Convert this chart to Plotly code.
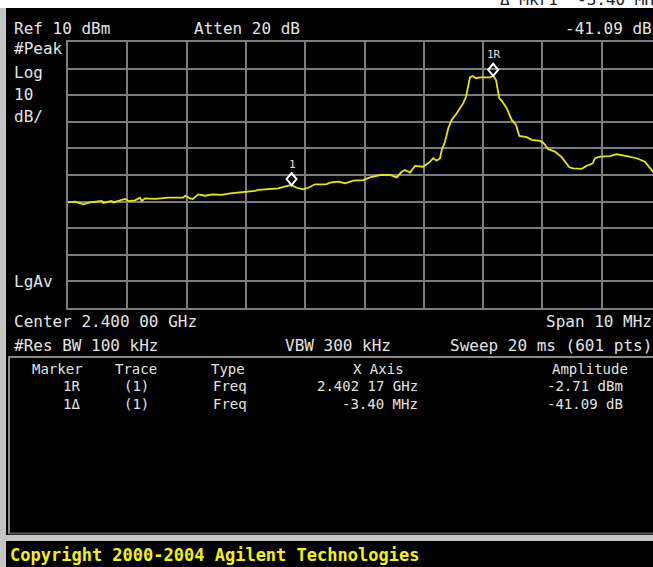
import plotly.graph_objects as go

# ---------------- data ----------------
center_mhz = 2400.0
span_mhz = 10.0
ref_level_dbm = 10.0
db_per_div = 10.0

freq_mhz = [
    2395.000, 2395.118, 2395.258, 2395.371, 2395.568, 2395.595, 2395.737, 2395.764,
    2395.961, 2396.017, 2396.130, 2396.214, 2396.243, 2396.298, 2396.467, 2396.551,
    2396.691, 2396.944, 2396.973, 2397.057, 2397.103, 2397.197, 2397.310, 2397.450,
    2397.592, 2397.732, 2397.929, 2398.153, 2398.209, 2398.406, 2398.546, 2398.715,
    2398.770, 2398.857, 2398.968, 2399.052, 2399.165, 2399.278, 2399.363, 2399.418,
    2399.558, 2399.671, 2399.811, 2399.980, 2400.093, 2400.261, 2400.430, 2400.543,
    2400.627, 2400.683, 2400.767, 2400.852, 2400.936, 2400.992, 2401.105, 2401.160,
    2401.217, 2401.245, 2401.273, 2401.302, 2401.357, 2401.413, 2401.470, 2401.555,
    2401.666, 2401.712, 2401.750, 2401.779, 2401.825, 2401.880, 2401.948, 2402.116,
    2402.170, 2402.218, 2402.273, 2402.314, 2402.398, 2402.482, 2402.555, 2402.611,
    2402.735, 2402.820, 2402.960, 2403.015, 2403.100, 2403.212, 2403.325, 2403.381,
    2403.454, 2403.521, 2403.663, 2403.747, 2403.848, 2403.887, 2403.971, 2404.140,
    2404.253, 2404.422, 2404.590, 2404.730, 2404.865, 2405.000,
]
amp_dbm = [
    -50.3, -50.0, -51.0, -50.3, -49.8, -50.5, -49.8, -50.3,
    -49.0, -49.8, -49.5, -48.5, -49.8, -48.8, -49.0, -48.8,
    -48.5, -48.5, -47.8, -48.8, -49.0, -47.3, -47.8, -47.3,
    -47.5, -46.9, -46.5, -46.0, -45.6, -45.3, -45.0, -44.0,
    -43.8, -44.8, -45.4, -44.8, -43.5, -43.5, -43.4, -42.9,
    -42.5, -43.1, -42.1, -41.9, -40.9, -40.0, -40.0, -40.9,
    -38.8, -38.1, -39.1, -36.6, -36.9, -36.9, -35.0, -33.7,
    -34.6, -34.1, -33.7, -30.6, -27.5, -22.4, -19.3, -16.8,
    -13.0, -10.6, -6.8, -3.3, -2.8, -3.6, -3.3, -3.3,
    -2.71, -4.3, -11.2, -12.1, -14.9, -19.3, -21.2, -25.3,
    -25.8, -26.8, -27.2, -27.9, -30.3, -31.2, -33.3, -35.0,
    -37.1, -37.5, -37.7, -36.5, -35.6, -33.7, -33.1, -32.9,
    -32.2, -32.9, -33.7, -35.0, -38.8, -41.0,
]

marker_labels = ["1R", "1"]
marker_freq_mhz = [2402.17, 2398.77]
marker_amp_dbm = [-2.71, -43.80]

table_header = ["Marker", "Trace", "Type", "X Axis", "Amplitude"]
table_rows = [
    ["1R", "(1)", "Freq", "2.402 17 GHz", "-2.71 dBm"],
    ["1\u0394", "(1)", "Freq", "-3.40 MHz", "-41.09 dB"],
]

# ---------------- layout geometry (pixels) ----------------
W, H = 653, 567
PL, PT = 68, 42          # plot area left/top
PW, PH = W - PL, 266     # plot area width/height
GRID_PX = 593            # full 10-division grid width (cropped on the right)

def px2x(px):
    return (px - PL) / PW

def py2y(py):
    return (PT + PH - py) / PH

MONO = "DejaVu Sans Mono"
TXT = "#e4e4e4"
GRID = "#7c7c7c"

fig = go.Figure()
fig.add_trace(go.Scatter(
    x=freq_mhz, y=amp_dbm, mode="lines",
    line=dict(color="#e8e800", width=1.8),
    hoverinfo="skip", showlegend=False,
))

x0 = center_mhz - span_mhz / 2
x1 = x0 + span_mhz * PW / GRID_PX
y_top = ref_level_dbm
y_bot = ref_level_dbm - 10 * db_per_div

shapes = []
annotations = []

# background frame elements
shapes.append(dict(type="rect", xref="paper", yref="paper",
                   x0=px2x(0), x1=px2x(W), y0=py2y(8), y1=py2y(-20),
                   fillcolor="white", line=dict(width=0), layer="below"))
shapes.append(dict(type="rect", xref="paper", yref="paper",
                   x0=px2x(0), x1=px2x(6), y0=py2y(H + 5), y1=py2y(8),
                   fillcolor="#c4c4c4", line=dict(width=0)))
# marker table box
shapes.append(dict(type="line", xref="paper", yref="paper",
                   x0=px2x(8), x1=px2x(W), y0=py2y(357), y1=py2y(357),
                   line=dict(color="#8a8a8a", width=2)))
shapes.append(dict(type="line", xref="paper", yref="paper",
                   x0=px2x(9), x1=px2x(9), y0=py2y(357), y1=py2y(534),
                   line=dict(color="#8a8a8a", width=2)))
shapes.append(dict(type="line", xref="paper", yref="paper",
                   x0=px2x(9), x1=px2x(W), y0=py2y(533.5), y1=py2y(533.5),
                   line=dict(color="#5a5a5a", width=2)))
shapes.append(dict(type="rect", xref="paper", yref="paper",
                   x0=px2x(0), x1=px2x(W), y0=py2y(541), y1=py2y(535),
                   fillcolor="#c4c4c4", line=dict(width=0)))

# marker diamonds (anchored at marker data point, drawn in pixel units)
for f, a in zip(marker_freq_mhz, marker_amp_dbm):
    shapes.append(dict(type="path", xref="x", yref="y",
                       xsizemode="pixel", ysizemode="pixel",
                       xanchor=f, yanchor=a,
                       path="M 0 0 L 5 6 L 0 12 L -5 6 Z",
                       line=dict(color="white", width=2)))
for lab, f, a in zip(marker_labels, marker_freq_mhz, marker_amp_dbm):
    annotations.append(dict(x=f, y=a, xref="x", yref="y", text=lab,
                            showarrow=False, yshift=21, xshift=1,
                            font=dict(family=MONO, size=11, color=TXT)))

def label(text, px, py, anchor="left", size=16, color=TXT, bold=False):
    t = f"<b>{text}</b>" if bold else text
    annotations.append(dict(x=px2x(px), y=py2y(py), xref="paper", yref="paper",
                            text=t, showarrow=False, xanchor=anchor, yanchor="middle",
                            font=dict(family=MONO, size=size, color=color)))

# top (partly hidden) window strip text
annotations.append(dict(x=px2x(666), y=py2y(11), xref="paper", yref="paper",
                        text="\u0394 Mkr1  -3.40 MHz", showarrow=False,
                        xanchor="right", yanchor="bottom",
                        font=dict(family=MONO, size=16, color="#202020")))

label("Ref 10 dBm", 12, 29)
label("Atten 20 dB", 192, 29)
label("-41.09 dB", W + 1, 29, anchor="right")
label("#Peak", 12, 49)
label("Log", 12, 72)
label("10", 12, 94)
label("dB/", 12, 116)
label("LgAv", 12, 281)
label("Center 2.400 00 GHz", 12, 321)
label("Span 10 MHz", W + 1, 321, anchor="right")
label("#Res BW 100 kHz", 12, 345)
label("VBW 300 kHz", 283, 345)
label("Sweep 20 ms (601 pts)", W + 1, 345, anchor="right")

# marker table
hdr_x = [57, 136, 228, 378, 590]
for t, cx in zip(table_header, hdr_x):
    label(t, cx, 369, anchor="center", size=14)
row_y = [386, 404]
col_pos = [(71, "center"), (136, "center"), (230, "center"), (420, "right"), (625, "right")]
for ry, row in zip(row_y, table_rows):
    for t, (cx, anc) in zip(row, col_pos):
        label(t, cx, ry, anchor=anc, size=14)

label("Copyright 2000-2004 Agilent Technologies", 8, 555, size=17,
      color="#f4f400", bold=True)

fig.update_layout(
    width=W, height=H, autosize=False,
    margin=dict(l=PL, r=0, t=PT, b=H - PT - PH, pad=0),
    paper_bgcolor="black", plot_bgcolor="black",
    shapes=shapes, annotations=annotations,
    showlegend=False,
    xaxis=dict(range=[x0, x1], tick0=x0, dtick=span_mhz / 10,
               showticklabels=False, ticks="", showgrid=True,
               gridcolor=GRID, gridwidth=2, zeroline=False,
               showline=True, linecolor=GRID, linewidth=2, mirror=True,
               fixedrange=True),
    yaxis=dict(range=[y_bot, y_top], tick0=y_bot, dtick=db_per_div,
               showticklabels=False, ticks="", showgrid=True,
               gridcolor=GRID, gridwidth=2, zeroline=False,
               showline=True, linecolor=GRID, linewidth=2, mirror=False,
               fixedrange=True),
)

fig.write_html("out.html", config={"displayModeBar": False},
               post_script="document.body.style.margin='0';document.body.style.overflow='hidden';")
